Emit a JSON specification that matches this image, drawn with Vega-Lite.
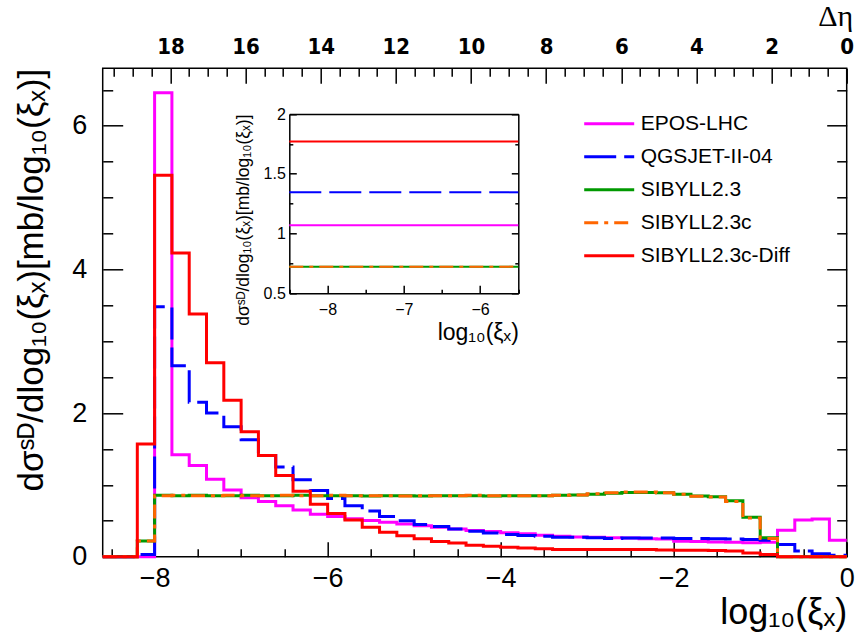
{
  "$schema": "https://vega.github.io/schema/vega-lite/v6.json",
  "width": 744,
  "height": 488.4,
  "autosize": {"type": "none"},
  "padding": {"left": 102.7, "top": 68.3, "right": 10.3, "bottom": 87.3},
  "background": "white",
  "config": {
    "font": "Liberation Sans",
    "view": {"stroke": "black", "strokeWidth": 1.5},
    "axis": {"domain": false, "grid": false, "tickColor": "black", "tickWidth": 1.5, "labelColor": "black", "titleColor": "black", "labelFont": "Liberation Sans", "titleFont": "Liberation Sans, DejaVu Sans", "titleFontWeight": "normal", "labelFlush": false, "labelOverlap": false, "domainColor": "black", "domainWidth": 1.5}
  },
  "datasets": {
    "hist": [
      {"series":"EPOS-LHC","lx":-8.6,"v":0},{"series":"EPOS-LHC","lx":-8.4,"v":0},{"series":"EPOS-LHC","lx":-8.2,"v":0},{"series":"EPOS-LHC","lx":-8,"v":6.46},{"series":"EPOS-LHC","lx":-7.8,"v":1.42},{"series":"EPOS-LHC","lx":-7.6,"v":1.27},{"series":"EPOS-LHC","lx":-7.4,"v":1.08},{"series":"EPOS-LHC","lx":-7.2,"v":0.93},{"series":"EPOS-LHC","lx":-7,"v":0.82},{"series":"EPOS-LHC","lx":-6.8,"v":0.77},{"series":"EPOS-LHC","lx":-6.6,"v":0.71},{"series":"EPOS-LHC","lx":-6.4,"v":0.65},{"series":"EPOS-LHC","lx":-6.2,"v":0.59},{"series":"EPOS-LHC","lx":-6,"v":0.56},{"series":"EPOS-LHC","lx":-5.8,"v":0.53},{"series":"EPOS-LHC","lx":-5.6,"v":0.505},{"series":"EPOS-LHC","lx":-5.4,"v":0.48},{"series":"EPOS-LHC","lx":-5.2,"v":0.455},{"series":"EPOS-LHC","lx":-5,"v":0.43},{"series":"EPOS-LHC","lx":-4.8,"v":0.41},{"series":"EPOS-LHC","lx":-4.6,"v":0.385},{"series":"EPOS-LHC","lx":-4.4,"v":0.365},{"series":"EPOS-LHC","lx":-4.2,"v":0.35},{"series":"EPOS-LHC","lx":-4,"v":0.335},{"series":"EPOS-LHC","lx":-3.8,"v":0.32},{"series":"EPOS-LHC","lx":-3.6,"v":0.3},{"series":"EPOS-LHC","lx":-3.4,"v":0.285},{"series":"EPOS-LHC","lx":-3.2,"v":0.275},{"series":"EPOS-LHC","lx":-3,"v":0.27},{"series":"EPOS-LHC","lx":-2.8,"v":0.265},{"series":"EPOS-LHC","lx":-2.6,"v":0.26},{"series":"EPOS-LHC","lx":-2.4,"v":0.25},{"series":"EPOS-LHC","lx":-2.2,"v":0.245},{"series":"EPOS-LHC","lx":-2,"v":0.215},{"series":"EPOS-LHC","lx":-1.8,"v":0.21},{"series":"EPOS-LHC","lx":-1.6,"v":0.205},{"series":"EPOS-LHC","lx":-1.4,"v":0.2},{"series":"EPOS-LHC","lx":-1.2,"v":0.195},{"series":"EPOS-LHC","lx":-1,"v":0.2},{"series":"EPOS-LHC","lx":-0.8,"v":0.37},{"series":"EPOS-LHC","lx":-0.6,"v":0.51},{"series":"EPOS-LHC","lx":-0.4,"v":0.525},{"series":"EPOS-LHC","lx":-0.2,"v":0.23},{"series":"EPOS-LHC","lx":0,"v":0.23},
      {"series":"QGSJET-II-04","lx":-8.6,"v":0},{"series":"QGSJET-II-04","lx":-8.4,"v":0},{"series":"QGSJET-II-04","lx":-8.2,"v":0.03},{"series":"QGSJET-II-04","lx":-8,"v":3.48},{"series":"QGSJET-II-04","lx":-7.8,"v":2.66},{"series":"QGSJET-II-04","lx":-7.6,"v":2.15},{"series":"QGSJET-II-04","lx":-7.4,"v":2.0},{"series":"QGSJET-II-04","lx":-7.2,"v":1.81},{"series":"QGSJET-II-04","lx":-7,"v":1.63},{"series":"QGSJET-II-04","lx":-6.8,"v":1.41},{"series":"QGSJET-II-04","lx":-6.6,"v":1.25},{"series":"QGSJET-II-04","lx":-6.4,"v":1.07},{"series":"QGSJET-II-04","lx":-6.2,"v":0.92},{"series":"QGSJET-II-04","lx":-6,"v":0.81},{"series":"QGSJET-II-04","lx":-5.8,"v":0.71},{"series":"QGSJET-II-04","lx":-5.6,"v":0.635},{"series":"QGSJET-II-04","lx":-5.4,"v":0.56},{"series":"QGSJET-II-04","lx":-5.2,"v":0.5},{"series":"QGSJET-II-04","lx":-5,"v":0.45},{"series":"QGSJET-II-04","lx":-4.8,"v":0.42},{"series":"QGSJET-II-04","lx":-4.6,"v":0.385},{"series":"QGSJET-II-04","lx":-4.4,"v":0.355},{"series":"QGSJET-II-04","lx":-4.2,"v":0.33},{"series":"QGSJET-II-04","lx":-4,"v":0.31},{"series":"QGSJET-II-04","lx":-3.8,"v":0.295},{"series":"QGSJET-II-04","lx":-3.6,"v":0.285},{"series":"QGSJET-II-04","lx":-3.4,"v":0.27},{"series":"QGSJET-II-04","lx":-3.2,"v":0.27},{"series":"QGSJET-II-04","lx":-3,"v":0.265},{"series":"QGSJET-II-04","lx":-2.8,"v":0.255},{"series":"QGSJET-II-04","lx":-2.6,"v":0.26},{"series":"QGSJET-II-04","lx":-2.4,"v":0.26},{"series":"QGSJET-II-04","lx":-2.2,"v":0.26},{"series":"QGSJET-II-04","lx":-2,"v":0.255},{"series":"QGSJET-II-04","lx":-1.8,"v":0.255},{"series":"QGSJET-II-04","lx":-1.6,"v":0.25},{"series":"QGSJET-II-04","lx":-1.4,"v":0.245},{"series":"QGSJET-II-04","lx":-1.2,"v":0.24},{"series":"QGSJET-II-04","lx":-1,"v":0.23},{"series":"QGSJET-II-04","lx":-0.8,"v":0.17},{"series":"QGSJET-II-04","lx":-0.6,"v":0.08},{"series":"QGSJET-II-04","lx":-0.4,"v":0.04},{"series":"QGSJET-II-04","lx":-0.2,"v":0.02},{"series":"QGSJET-II-04","lx":0,"v":0.02},
      {"series":"SIBYLL2.3","lx":-8.6,"v":0},{"series":"SIBYLL2.3","lx":-8.4,"v":0},{"series":"SIBYLL2.3","lx":-8.2,"v":0.22},{"series":"SIBYLL2.3","lx":-8,"v":0.855},{"series":"SIBYLL2.3","lx":-7.8,"v":0.85},{"series":"SIBYLL2.3","lx":-7.6,"v":0.855},{"series":"SIBYLL2.3","lx":-7.4,"v":0.85},{"series":"SIBYLL2.3","lx":-7.2,"v":0.85},{"series":"SIBYLL2.3","lx":-7,"v":0.855},{"series":"SIBYLL2.3","lx":-6.8,"v":0.85},{"series":"SIBYLL2.3","lx":-6.6,"v":0.85},{"series":"SIBYLL2.3","lx":-6.4,"v":0.855},{"series":"SIBYLL2.3","lx":-6.2,"v":0.85},{"series":"SIBYLL2.3","lx":-6,"v":0.85},{"series":"SIBYLL2.3","lx":-5.8,"v":0.85},{"series":"SIBYLL2.3","lx":-5.6,"v":0.845},{"series":"SIBYLL2.3","lx":-5.4,"v":0.85},{"series":"SIBYLL2.3","lx":-5.2,"v":0.85},{"series":"SIBYLL2.3","lx":-5,"v":0.845},{"series":"SIBYLL2.3","lx":-4.8,"v":0.85},{"series":"SIBYLL2.3","lx":-4.6,"v":0.85},{"series":"SIBYLL2.3","lx":-4.4,"v":0.85},{"series":"SIBYLL2.3","lx":-4.2,"v":0.845},{"series":"SIBYLL2.3","lx":-4,"v":0.85},{"series":"SIBYLL2.3","lx":-3.8,"v":0.85},{"series":"SIBYLL2.3","lx":-3.6,"v":0.85},{"series":"SIBYLL2.3","lx":-3.4,"v":0.855},{"series":"SIBYLL2.3","lx":-3.2,"v":0.86},{"series":"SIBYLL2.3","lx":-3,"v":0.87},{"series":"SIBYLL2.3","lx":-2.8,"v":0.885},{"series":"SIBYLL2.3","lx":-2.6,"v":0.895},{"series":"SIBYLL2.3","lx":-2.4,"v":0.895},{"series":"SIBYLL2.3","lx":-2.2,"v":0.89},{"series":"SIBYLL2.3","lx":-2,"v":0.87},{"series":"SIBYLL2.3","lx":-1.8,"v":0.845},{"series":"SIBYLL2.3","lx":-1.6,"v":0.835},{"series":"SIBYLL2.3","lx":-1.4,"v":0.78},{"series":"SIBYLL2.3","lx":-1.2,"v":0.55},{"series":"SIBYLL2.3","lx":-1,"v":0.265},{"series":"SIBYLL2.3","lx":-0.8,"v":0},{"series":"SIBYLL2.3","lx":-0.6,"v":0},{"series":"SIBYLL2.3","lx":-0.4,"v":0},{"series":"SIBYLL2.3","lx":-0.2,"v":0},{"series":"SIBYLL2.3","lx":0,"v":0},
      {"series":"SIBYLL2.3c","lx":-8.6,"v":0},{"series":"SIBYLL2.3c","lx":-8.4,"v":0},{"series":"SIBYLL2.3c","lx":-8.2,"v":0.22},{"series":"SIBYLL2.3c","lx":-8,"v":0.85},{"series":"SIBYLL2.3c","lx":-7.8,"v":0.855},{"series":"SIBYLL2.3c","lx":-7.6,"v":0.85},{"series":"SIBYLL2.3c","lx":-7.4,"v":0.85},{"series":"SIBYLL2.3c","lx":-7.2,"v":0.855},{"series":"SIBYLL2.3c","lx":-7,"v":0.85},{"series":"SIBYLL2.3c","lx":-6.8,"v":0.85},{"series":"SIBYLL2.3c","lx":-6.6,"v":0.855},{"series":"SIBYLL2.3c","lx":-6.4,"v":0.85},{"series":"SIBYLL2.3c","lx":-6.2,"v":0.85},{"series":"SIBYLL2.3c","lx":-6,"v":0.855},{"series":"SIBYLL2.3c","lx":-5.8,"v":0.85},{"series":"SIBYLL2.3c","lx":-5.6,"v":0.85},{"series":"SIBYLL2.3c","lx":-5.4,"v":0.85},{"series":"SIBYLL2.3c","lx":-5.2,"v":0.845},{"series":"SIBYLL2.3c","lx":-5,"v":0.85},{"series":"SIBYLL2.3c","lx":-4.8,"v":0.85},{"series":"SIBYLL2.3c","lx":-4.6,"v":0.85},{"series":"SIBYLL2.3c","lx":-4.4,"v":0.855},{"series":"SIBYLL2.3c","lx":-4.2,"v":0.85},{"series":"SIBYLL2.3c","lx":-4,"v":0.85},{"series":"SIBYLL2.3c","lx":-3.8,"v":0.85},{"series":"SIBYLL2.3c","lx":-3.6,"v":0.85},{"series":"SIBYLL2.3c","lx":-3.4,"v":0.855},{"series":"SIBYLL2.3c","lx":-3.2,"v":0.86},{"series":"SIBYLL2.3c","lx":-3,"v":0.875},{"series":"SIBYLL2.3c","lx":-2.8,"v":0.89},{"series":"SIBYLL2.3c","lx":-2.6,"v":0.9},{"series":"SIBYLL2.3c","lx":-2.4,"v":0.9},{"series":"SIBYLL2.3c","lx":-2.2,"v":0.89},{"series":"SIBYLL2.3c","lx":-2,"v":0.87},{"series":"SIBYLL2.3c","lx":-1.8,"v":0.84},{"series":"SIBYLL2.3c","lx":-1.6,"v":0.83},{"series":"SIBYLL2.3c","lx":-1.4,"v":0.77},{"series":"SIBYLL2.3c","lx":-1.2,"v":0.54},{"series":"SIBYLL2.3c","lx":-1,"v":0.255},{"series":"SIBYLL2.3c","lx":-0.8,"v":0},{"series":"SIBYLL2.3c","lx":-0.6,"v":0},{"series":"SIBYLL2.3c","lx":-0.4,"v":0},{"series":"SIBYLL2.3c","lx":-0.2,"v":0},{"series":"SIBYLL2.3c","lx":0,"v":0},
      {"series":"SIBYLL2.3c-Diff","lx":-8.6,"v":0},{"series":"SIBYLL2.3c-Diff","lx":-8.4,"v":0},{"series":"SIBYLL2.3c-Diff","lx":-8.2,"v":1.57},{"series":"SIBYLL2.3c-Diff","lx":-8,"v":5.31},{"series":"SIBYLL2.3c-Diff","lx":-7.8,"v":4.23},{"series":"SIBYLL2.3c-Diff","lx":-7.6,"v":3.38},{"series":"SIBYLL2.3c-Diff","lx":-7.4,"v":2.7},{"series":"SIBYLL2.3c-Diff","lx":-7.2,"v":2.18},{"series":"SIBYLL2.3c-Diff","lx":-7,"v":1.74},{"series":"SIBYLL2.3c-Diff","lx":-6.8,"v":1.41},{"series":"SIBYLL2.3c-Diff","lx":-6.6,"v":1.13},{"series":"SIBYLL2.3c-Diff","lx":-6.4,"v":0.91},{"series":"SIBYLL2.3c-Diff","lx":-6.2,"v":0.73},{"series":"SIBYLL2.3c-Diff","lx":-6,"v":0.6},{"series":"SIBYLL2.3c-Diff","lx":-5.8,"v":0.51},{"series":"SIBYLL2.3c-Diff","lx":-5.6,"v":0.41},{"series":"SIBYLL2.3c-Diff","lx":-5.4,"v":0.34},{"series":"SIBYLL2.3c-Diff","lx":-5.2,"v":0.29},{"series":"SIBYLL2.3c-Diff","lx":-5,"v":0.25},{"series":"SIBYLL2.3c-Diff","lx":-4.8,"v":0.21},{"series":"SIBYLL2.3c-Diff","lx":-4.6,"v":0.19},{"series":"SIBYLL2.3c-Diff","lx":-4.4,"v":0.16},{"series":"SIBYLL2.3c-Diff","lx":-4.2,"v":0.145},{"series":"SIBYLL2.3c-Diff","lx":-4,"v":0.13},{"series":"SIBYLL2.3c-Diff","lx":-3.8,"v":0.12},{"series":"SIBYLL2.3c-Diff","lx":-3.6,"v":0.11},{"series":"SIBYLL2.3c-Diff","lx":-3.4,"v":0.1},{"series":"SIBYLL2.3c-Diff","lx":-3.2,"v":0.1},{"series":"SIBYLL2.3c-Diff","lx":-3,"v":0.1},{"series":"SIBYLL2.3c-Diff","lx":-2.8,"v":0.1},{"series":"SIBYLL2.3c-Diff","lx":-2.6,"v":0.1},{"series":"SIBYLL2.3c-Diff","lx":-2.4,"v":0.1},{"series":"SIBYLL2.3c-Diff","lx":-2.2,"v":0.095},{"series":"SIBYLL2.3c-Diff","lx":-2,"v":0.09},{"series":"SIBYLL2.3c-Diff","lx":-1.8,"v":0.09},{"series":"SIBYLL2.3c-Diff","lx":-1.6,"v":0.085},{"series":"SIBYLL2.3c-Diff","lx":-1.4,"v":0.08},{"series":"SIBYLL2.3c-Diff","lx":-1.2,"v":0.05},{"series":"SIBYLL2.3c-Diff","lx":-1,"v":0.03},{"series":"SIBYLL2.3c-Diff","lx":-0.8,"v":0},{"series":"SIBYLL2.3c-Diff","lx":-0.6,"v":0},{"series":"SIBYLL2.3c-Diff","lx":-0.4,"v":0},{"series":"SIBYLL2.3c-Diff","lx":-0.2,"v":0},{"series":"SIBYLL2.3c-Diff","lx":0,"v":0}
    ],
    "inset": [
      {"series": "EPOS-LHC", "v": 1.069},
      {"series": "QGSJET-II-04", "v": 1.345},
      {"series": "SIBYLL2.3", "v": 0.723},
      {"series": "SIBYLL2.3c", "v": 0.723},
      {"series": "SIBYLL2.3c-Diff", "v": 1.769}
    ]
  },
  "resolve": {"scale": {"x": "independent", "y": "independent"}, "axis": {"x": "independent", "y": "independent"}},
  "layer": [
    {
      "data": {"name": "hist"},
      "mark": {"type": "line", "interpolate": "step-after", "strokeWidth": 3},
      "encoding": {
        "x": {"field": "lx", "type": "quantitative",
          "scale": {"domain": [-8.6, 0], "nice": false, "zero": false},
          "axis": {"orient": "bottom",
            "values": [-8.5,-8,-7.5,-7,-6.5,-6,-5.5,-5,-4.5,-4,-3.5,-3,-2.5,-2,-1.5,-1,-0.5,0],
            "labelExpr": "datum.value % 2 === 0 ? (datum.value < 0 ? '−' + abs(datum.value) : '0') : ''",
            "tickSize": {"condition": {"test": "datum.value % 2 === 0", "value": -15}, "value": -8},
            "labelPadding": 24, "labelFontSize": 27,
            "title": "log₁₀(ξₓ)", "titleFontSize": 36, "titleAnchor": "end", "titlePadding": -3}},
        "y": {"field": "v", "type": "quantitative",
          "scale": {"domain": [0, 6.8], "nice": false},
          "axis": {"orient": "left",
            "values": [0,0.5,1,1.5,2,2.5,3,3.5,4,4.5,5,5.5,6,6.5],
            "labelExpr": "datum.value % 2 === 0 ? datum.value + '' : ''",
            "tickSize": {"condition": {"test": "datum.value % 2 === 0", "value": -20}, "value": -10},
            "labelPadding": 36, "labelFontSize": 27,
            "title": "dσˢᴰ/dlog₁₀(ξₓ)[mb/log₁₀(ξₓ)]", "titleFontSize": 35, "titleAnchor": "end", "titlePadding": 22}},
        "color": {"field": "series", "type": "nominal",
          "scale": {"domain": ["EPOS-LHC","QGSJET-II-04","SIBYLL2.3","SIBYLL2.3c","SIBYLL2.3c-Diff"], "range": ["#ff00ff","#0000ff","#009900","#ff6600","#ff0000"]},
          "legend": {"orient": "none", "legendX": 495, "legendY": 44, "title": null, "symbolType": "M-2.5,0H2.5", "symbolSize": 400, "symbolStrokeWidth": 3, "labelFontSize": 21, "labelFont": "Liberation Sans", "labelColor": "black", "labelOffset": 20, "rowPadding": 11, "padding": 0, "labelLimit": 400}},
        "strokeDash": {"field": "series", "type": "nominal",
          "scale": {"domain": ["EPOS-LHC","QGSJET-II-04","SIBYLL2.3","SIBYLL2.3c","SIBYLL2.3c-Diff"], "range": [[1,0],[32,8],[1,0],[14,6,4,6],[1,0]]},
          "legend": {"orient": "none", "legendX": 495, "legendY": 44, "title": null, "symbolType": "M-2.5,0H2.5", "symbolSize": 400, "symbolStrokeWidth": 3, "labelFontSize": 21, "labelFont": "Liberation Sans", "labelColor": "black", "labelOffset": 20, "rowPadding": 11, "padding": 0, "labelLimit": 400}}
      }
    },
    {
      "data": {"values": [{"deta": 0}]},
      "mark": {"type": "point", "opacity": 0},
      "encoding": {
        "x": {"field": "deta", "type": "quantitative",
          "scale": {"domain": [19.802, 0], "nice": false, "zero": false},
          "axis": {"orient": "top",
            "values": [0,0.5,1,1.5,2,2.5,3,3.5,4,4.5,5,5.5,6,6.5,7,7.5,8,8.5,9,9.5,10,10.5,11,11.5,12,12.5,13,13.5,14,14.5,15,15.5,16,16.5,17,17.5,18,18.5,19,19.5],
            "labelExpr": "datum.value % 2 === 0 ? datum.value + '' : ''",
            "tickSize": {"condition": {"test": "datum.value % 2 === 0", "value": -15}, "value": -8},
            "labelPadding": 25, "labelFontSize": 22, "labelFontWeight": "bold", "labelFont": "Liberation Sans Narrow, DejaVu Sans Condensed, Liberation Sans",
            "title": "Δη", "titleFont": "Liberation Serif", "titleFontSize": 30, "titleX": 750, "titleY": -43, "titleAlign": "right", "titleBaseline": "alphabetic"}}
      }
    },
    {
      "data": {"values": [{"v": 0}]},
      "mark": {"type": "point", "opacity": 0},
      "encoding": {
        "y": {"field": "v", "type": "quantitative",
          "scale": {"domain": [0, 6.8], "nice": false},
          "axis": {"orient": "right", "labels": false, "title": null,
            "values": [0,0.5,1,1.5,2,2.5,3,3.5,4,4.5,5,5.5,6,6.5],
            "tickSize": {"condition": {"test": "datum.value % 2 === 0", "value": -20}, "value": -10}}}
      }
    },
    {
      "data": {"name": "inset"},
      "mark": {"type": "rule", "strokeWidth": 2},
      "encoding": {
        "x": {"datum": -8.5, "type": "quantitative",
          "scale": {"domain": [-8.5, -5.5], "range": [186.6, 415.6], "nice": false, "zero": false},
          "axis": {"orient": "bottom", "offset": -263.4, "domain": true,
            "values": [-8.5,-8,-7.5,-7,-6.5,-6,-5.5],
            "labelExpr": "datum.value % 1 === 0 ? '−' + abs(datum.value) : ''",
            "tickSize": {"condition": {"test": "datum.value % 1 === 0", "value": -8}, "value": -4},
            "labelPadding": 16, "labelFontSize": 16,
            "title": "log₁₀(ξₓ)", "titleFontSize": 23, "titleAnchor": "end", "titlePadding": 0}},
        "x2": {"datum": -5.5},
        "y": {"field": "v", "type": "quantitative",
          "scale": {"domain": [0.5, 2], "range": [225, 45.7], "nice": false, "zero": false},
          "axis": {"orient": "left", "offset": -186.6, "domain": true,
            "values": [0.5,0.75,1,1.25,1.5,1.75,2],
            "labelExpr": "datum.value % 0.5 === 0 ? datum.value + '' : ''",
            "tickSize": {"condition": {"test": "datum.value % 0.5 === 0", "value": -7}, "value": -3.5},
            "labelPadding": 11, "labelFontSize": 16,
            "title": "dσˢᴰ/dlog₁₀(ξₓ)[mb/log₁₀(ξₓ)]", "titleFontSize": 17.5, "titleAnchor": "end", "titlePadding": 11}},
        "color": {"field": "series", "type": "nominal"},
        "strokeDash": {"field": "series", "type": "nominal"}
      }
    },
    {
      "data": {"values": [{"a": -8.5, "b": 0.5}]},
      "mark": {"type": "point", "opacity": 0},
      "encoding": {
        "x": {"field": "a", "type": "quantitative",
          "scale": {"domain": [-8.5, -5.5], "range": [186.6, 415.6], "nice": false, "zero": false},
          "axis": {"orient": "top", "offset": -45.7, "domain": true, "ticks": false, "labels": false, "title": null}},
        "y": {"field": "b", "type": "quantitative",
          "scale": {"domain": [0.5, 2], "range": [225, 45.7], "nice": false, "zero": false},
          "axis": {"orient": "right", "offset": -328.4, "domain": true, "labels": false, "title": null,
            "values": [0.5,0.75,1,1.25,1.5,1.75,2],
            "tickSize": {"condition": {"test": "datum.value % 0.5 === 0", "value": -7}, "value": -3.5}}}
      }
    }
  ]
}
